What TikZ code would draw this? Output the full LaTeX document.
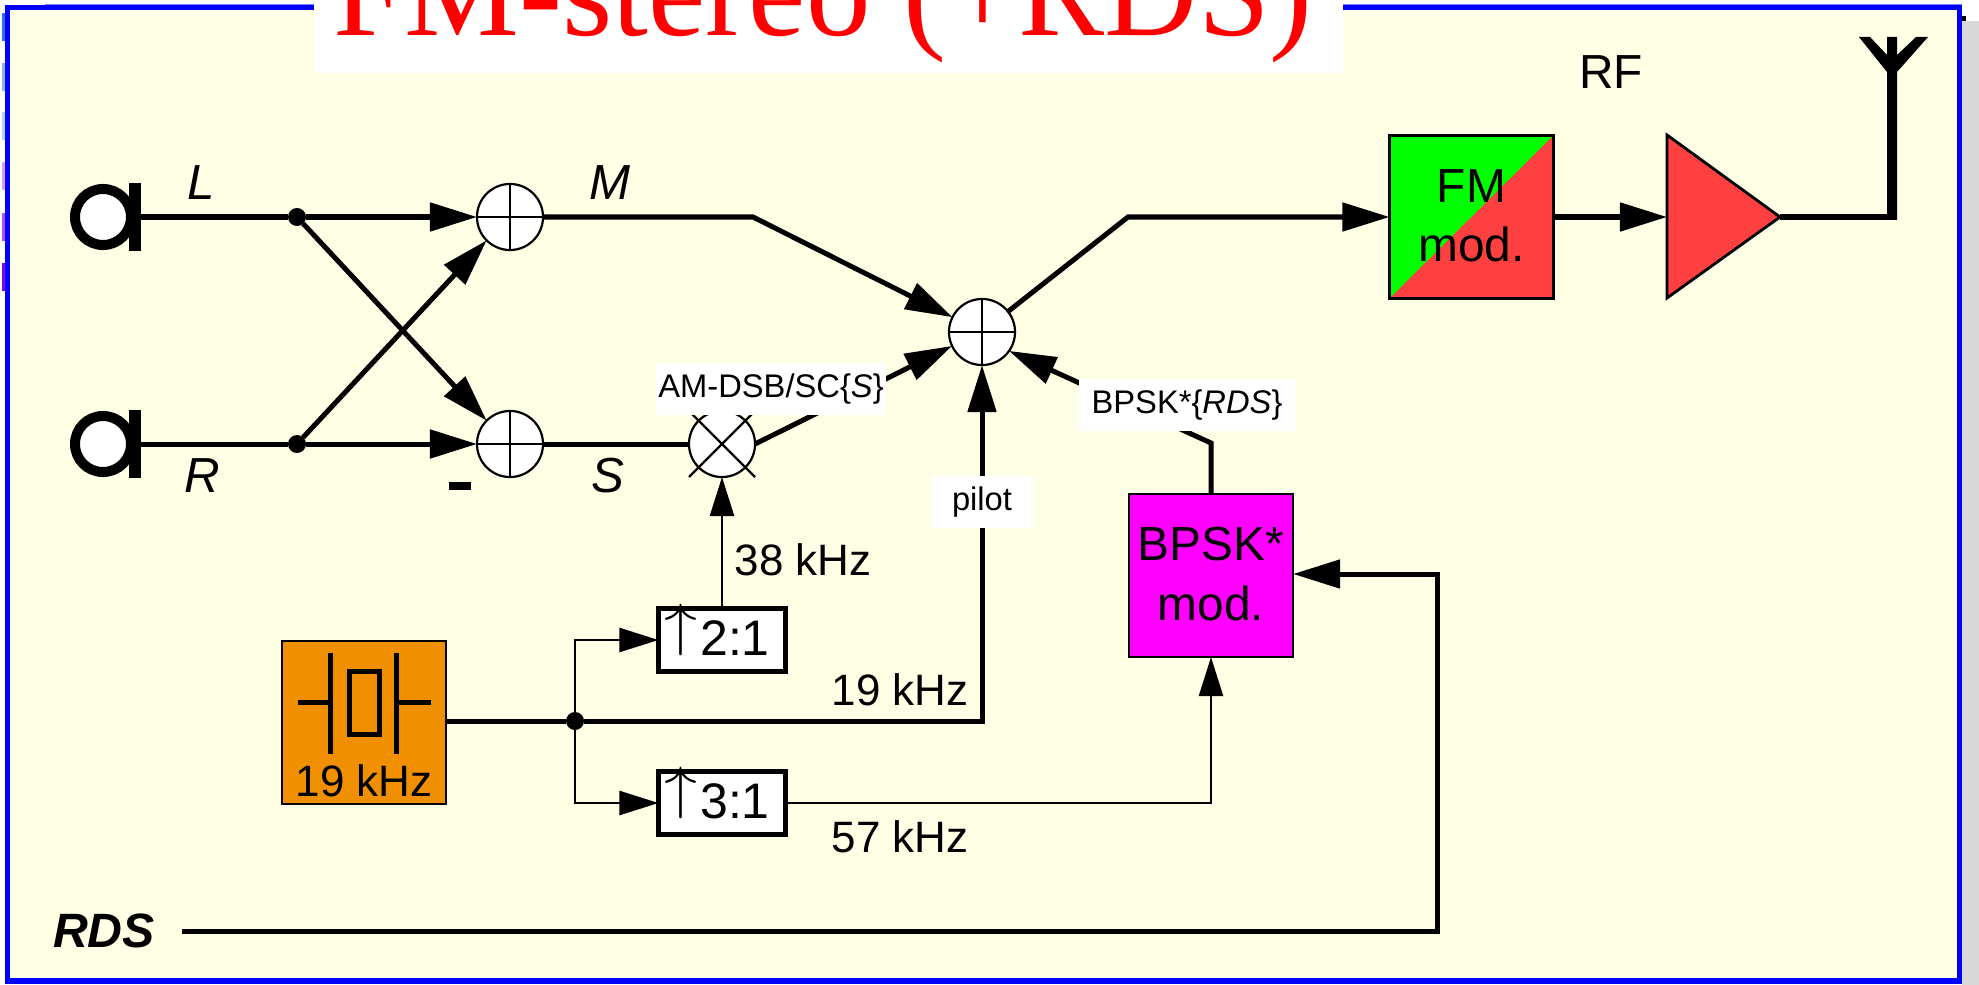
\documentclass[tikz,border=0pt]{standalone}
\usepackage{fontspec}
\usepackage{tikz}
\usetikzlibrary{arrows.meta,positioning}
\setmainfont{Liberation Sans}
\newfontfamily\titlefont{Liberation Serif}
\definecolor{paneyellow}{HTML}{FFFFE6}
\definecolor{paneshadow}{HTML}{D8D8D8}
\definecolor{oscorange}{HTML}{F09000}
\definecolor{fmred}{HTML}{FF4040}
\definecolor{fmgreen}{HTML}{00FF00}
\definecolor{bpskpink}{HTML}{FF00FF}
\definecolor{paneblue}{HTML}{0000FF}
\newcommand{\divtext}[1]{\smash{\raisebox{.223em}{\scalebox{1.3}[1.15]{$\uparrow$}}}\kern.3mm #1\kern1mm\rule[-.4mm]{0pt}{.4mm}}
\tikzset{
    sigline/.style={line width=.5mm},
    thinline/.style={line width=.24mm},
    bigarrow/.style={sigline,-{Triangle[length=4.7mm,width=2.8mm]}},
    smallarrow/.style={thinline,-{Triangle[length=3.9mm,width=2.4mm]}},
    sumnode/.style={circle,draw,fill=white,line width=.22mm,minimum size=6.6mm,inner sep=0pt,outer sep=0pt},
    jackring/.style={circle,draw,fill=white,line width=1mm,minimum size=5.6mm,inner sep=0pt,outer sep=0pt},
    jackbar/.style={fill=black,minimum width=1.2mm,minimum height=6.8mm,inner sep=0pt,outer sep=0pt},
    joint/.style={circle,fill=black,minimum size=1.8mm,inner sep=0pt,outer sep=0pt},
    sigtext/.style={font=\fontsize{14pt}{16pt}\selectfont\itshape},
    freqtext/.style={font=\fontsize{12.5pt}{15pt}\selectfont},
    tagtext/.style={fill=white,font=\fontsize{9.3pt}{11pt}\selectfont,inner sep=0pt,minimum height=5.2mm},
    modbox/.style={draw,line width=.28mm,inner sep=0pt,outer sep=0pt,align=center,minimum width=16.4mm,minimum height=16.3mm,font=\fontsize{13.6pt}{17pt}\selectfont},
    divbox/.style={draw,fill=white,line width=.5mm,inner sep=0pt,outer sep=0pt,minimum width=12.7mm,minimum height=6.2mm,font=\fontsize{14.2pt}{16pt}\selectfont}
}
\begin{document}
\begin{tikzpicture}[x=0.01cm,y=-0.01cm]
\useasboundingbox (0,0) rectangle (1979,985);

% Pane
\fill[paneshadow] (1962,21) rectangle (1979,985);
\fill (1962,16) rectangle (1966,21);
\draw[line width=.55mm,draw=paneblue,fill=paneyellow] (7.5,7.5) rectangle (1959.5,981);
\draw[line width=.1mm,draw=paneblue!50!white] (45,4.5) -- (1962,4.5);
\foreach \y/\c in {13/3070F0,63/90B0F0,112/B0D8FF,162/D8A0F0,213/B050F0,263/8000F0} {
    \definecolor{markcolor}{HTML}{\c}
    \fill[markcolor] (2,\y) rectangle (5,\y+28);
}

% Title
\fill[white] (314,0) rectangle (1343,73);
\node (title) at (823,36) [anchor=base,text=red,inner sep=0pt,font=\titlefont\fontsize{36.7pt}{40pt}\selectfont] {FM-stereo (+RDS)};

% Inputs
\foreach \n/\y in {L/217,R/444} {
    \node (jack\n) at (103,\y) [jackring] {};
    \node (bar\n) at (135,\y) [jackbar] {};
    \node (dot\n) at (297,\y) [joint] {};
}

% Adders and mixer
\node (sumM) at (510,217) [sumnode] {};
\node (sumS) at (510,444) [sumnode] {};
\node (sumC) at (982,332) [sumnode] {};
\node (mixer) at (722,444) [sumnode] {};
\foreach \n in {sumM,sumS,sumC} {
    \draw[thinline] (\n.north) -- (\n.south);
    \draw[thinline] (\n.west) -- (\n.east);
}
\draw[thinline] (mixer) +(-33,-33) -- +(33,33);
\draw[thinline] (mixer) +(33,-33) -- +(-33,33);

% Blocks
\node (osc) at (364,722.5) [modbox,fill=oscorange] {};
\node (upTwo) at (722,640) [divbox] {\divtext{2:1}};
\node (upThree) at (722,803) [divbox] {\divtext{3:1}};
\node (bpsk) at (1211,575.5) [modbox,fill=bpskpink] {BPSK*\\mod.\rule[-.4mm]{0pt}{.4mm}};
\node (fmmod) at (1471.5,217) [modbox,fill=fmgreen,path picture={
    \fill[fmred] (path picture bounding box.north east) -- (path picture bounding box.south east) -- (path picture bounding box.south west) -- cycle;
}] {FM\\mod.\rule[-.3mm]{0pt}{.3mm}};

% Crystal
\draw[sigline] (298,702) -- (330,702);
\draw[sigline] (330,653) -- (330,754);
\draw[sigline] (349,671) rectangle (379,734);
\draw[sigline] (396,653) -- (396,754);
\draw[sigline] (396,702) -- (431,702);

% Amplifier and antenna
\coordinate (ampin) at (1667,217);
\coordinate (ampout) at (1780,217);
\coordinate (antfoot) at (1892,217);
\draw[line width=.28mm,fill=fmred] (1667,135) -- (ampout) -- (1667,298) -- cycle;
\fill (1859,37) -- (1870,37) -- (1887,55) -- (1887,37) -- (1897,37) -- (1897,55) -- (1916,37) -- (1928,37) -- (1897,72) -- (1897,220) -- (1887,220) -- (1887,72) -- cycle;

% Left and right signals
\draw[sigline] (barL) -- (dotL);
\draw[sigline] (barR) -- (dotR);
\draw[bigarrow] (dotL) -- (sumM);
\draw[bigarrow] (dotR) -- (sumS);
\draw[bigarrow] (dotL) -- (sumS.135);
\draw[bigarrow] (dotR) -- (sumM.225);

% Sum and difference
\coordinate (bendM) at (753,217);
\coordinate (bendOut) at (1128,217);
\draw[bigarrow] (sumM) -- (bendM) -- (sumC);
\draw[sigline] (sumS) -- (mixer);
\draw[bigarrow] (mixer.east) -- (sumC.205);
\draw[bigarrow] (sumC) -- (bendOut) -- (fmmod.west);
\draw[bigarrow] (fmmod.east) -- (ampin);
\draw[sigline] (ampout) -- (antfoot);

% Clock paths
\node (dotOsc) at (575,721) [joint] {};
\coordinate (cornerPilot) at (982,721);
\draw[sigline] (osc.east |- dotOsc) -- (dotOsc);
\draw[bigarrow] (dotOsc) -- (cornerPilot) -- (sumC);
\draw[smallarrow] (dotOsc) |- (upTwo.west);
\draw[smallarrow] (dotOsc) |- (upThree.west);
\draw[smallarrow] (upTwo) -- (mixer);
\draw[smallarrow] (upThree.east) -| (bpsk.south);

% RDS path
\coordinate (rdsstart) at (182,931);
\coordinate (rdscorner) at (1437,931);
\coordinate (rdsbend) at (1437,574);
\draw[bigarrow] (rdsstart) -- (rdscorner) -- (rdsbend) -- (rdsbend -| bpsk.east);
\coordinate (bendB) at (1211,443);
\draw[bigarrow] (bpsk.north) -- (bendB) -- (sumC.-35);

% Minus sign
\fill (449,482) rectangle (471,490);

% Labels
\node (labL) at (201,183) [sigtext] {L};
\node (labR) at (202,476) [sigtext] {R};
\node (labM) at (610,183) [sigtext] {M};
\node (labS) at (608,476) [sigtext] {S};
\node (labAM) at (771,389) [tagtext,minimum width=23mm] {AM-DSB/SC\{\textit{S}\}};
\node (labBPSK) at (1187,405) [tagtext,minimum width=21.5mm] {BPSK*\{\textit{RDS}\}};
\node (labPilot) at (982,502) [tagtext,minimum width=10.1mm] {pilot};
\node (lab38) at (803,560) [freqtext] {38 kHz};
\node (lab19) at (900,690) [freqtext] {19 kHz};
\node (lab57) at (900,837) [freqtext] {57 kHz};
\node (labOsc) at (364,781) [freqtext] {19 kHz};
\node (labRF) at (1611,72) [font=\fontsize{13.6pt}{15pt}\selectfont] {RF};
\node (labRDS) at (104,931) [font=\fontsize{13.7pt}{15pt}\selectfont\bfseries\itshape] {RDS};
\end{tikzpicture}
\end{document}
